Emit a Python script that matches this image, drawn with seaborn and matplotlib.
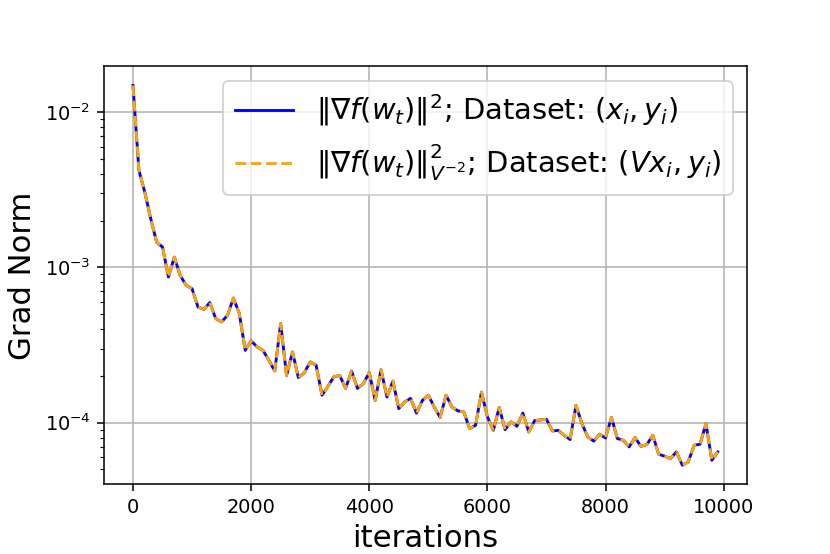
import numpy as np
import pandas as pd
import matplotlib
matplotlib.use('Agg')
import matplotlib.pyplot as plt
import seaborn as sns

# iterations at which the gradient norm was logged
iterations = list(range(0, 10000, 100))

# gradient norm on the original dataset (x_i, y_i)
grad_norm = [
    0.01486, 0.00422, 0.00305, 0.00206, 0.001456, 0.00135, 0.000867, 0.001164, 0.000887, 0.000765,
    0.000729, 0.000555, 0.000536, 0.000593, 0.000468, 0.000445, 0.000491, 0.000634, 0.000504, 0.000292,
    0.000336, 0.000307, 0.000292, 0.000252, 0.000215, 0.000434, 0.000201, 0.000285, 0.000195, 0.000209,
    0.000246, 0.000234, 0.000150, 0.000171, 0.000197, 0.000201, 0.000166, 0.000215, 0.000166, 0.000178,
    0.000210, 0.000139, 0.000219, 0.000146, 0.000185, 0.000123, 0.000136, 0.000143, 0.000115, 0.000139,
    0.000150, 0.000126, 0.000108, 0.000150, 0.000126, 0.000119, 0.000117, 9.14e-5, 9.6e-5, 0.000157,
    0.000109, 8.9e-5, 0.000125, 9.0e-5, 0.000101, 9.46e-5, 0.000115, 8.69e-5, 0.000103, 0.000104,
    0.000105, 8.83e-5, 8.9e-5, 8.28e-5, 7.77e-5, 0.000129, 9.84e-5, 8.07e-5, 7.59e-5, 8.41e-5,
    7.95e-5, 0.000108, 7.89e-5, 7.69e-5, 6.97e-5, 8.0e-5, 7.03e-5, 7.21e-5, 8.28e-5, 6.25e-5,
    6.07e-5, 5.86e-5, 6.47e-5, 5.31e-5, 5.57e-5, 7.14e-5, 7.25e-5, 9.84e-5, 5.71e-5, 6.47e-5,
]

# V^-2 weighted norm on the transformed dataset (V x_i, y_i) -- the curves coincide
grad_norm_v = list(grad_norm)

label_orig = r'$\|\nabla f(w_t)\|^2$; Dataset: $(x_i, y_i)$'
label_v = r'$\|\nabla f(w_t)\|_{V^{-2}}^2$; Dataset: $(Vx_i, y_i)$'

df = pd.DataFrame({'iterations': iterations, 'orig': grad_norm, 'scaled': grad_norm_v})

dpi = 138.4
fig, ax = plt.subplots(figsize=(830 / dpi, 554 / dpi), dpi=dpi)
fig.subplots_adjust(left=0.125, right=0.9, top=0.88, bottom=0.126)

sns.lineplot(data=df, x='iterations', y='orig', ax=ax, color='blue',
             linewidth=1.5, label=label_orig)
sns.lineplot(data=df, x='iterations', y='scaled', ax=ax, color='orange',
             linewidth=1.5, linestyle='--', label=label_v)

ax.set_yscale('log')
ax.grid(True)
ax.set_xlabel('iterations', fontsize=16)
ax.set_ylabel('Grad Norm', fontsize=16)
ax.legend(loc='upper right', fontsize=15)

fig.savefig('out.png', dpi=dpi)
